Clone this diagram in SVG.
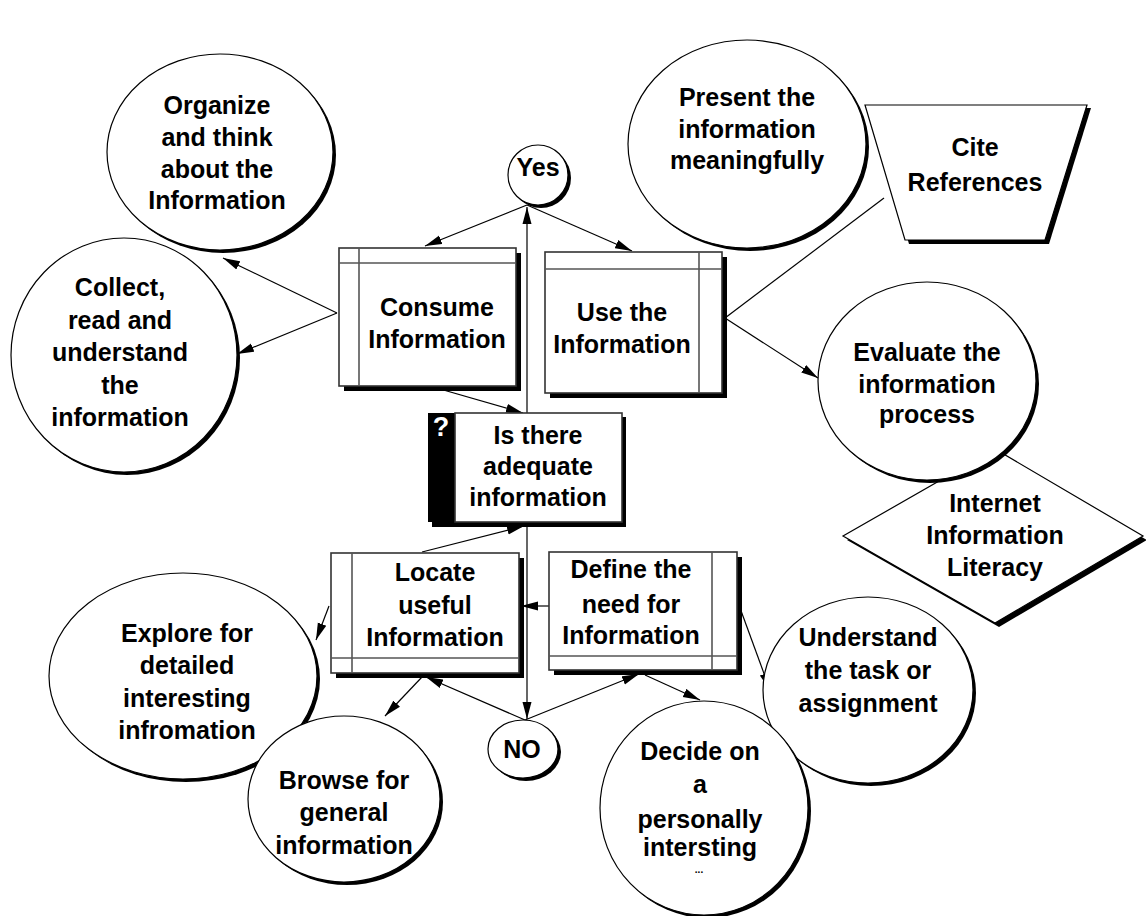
<svg xmlns="http://www.w3.org/2000/svg" width="1146" height="916" viewBox="0 0 1146 916">
<defs>
<style>
.t{font-family:"Liberation Sans",Arial,sans-serif;font-weight:bold;font-size:25px;fill:#000;text-anchor:middle}
.sh{fill:#000}
.c{fill:#fff;stroke:#000;stroke-width:1.2}
.b{fill:#fff;stroke:#333;stroke-width:1.6}
.in{stroke:#555;stroke-width:1.6;fill:none}
.ln{stroke:#000;stroke-width:1.2;fill:none}
</style>
<marker id="ah" markerUnits="userSpaceOnUse" markerWidth="18" markerHeight="10" refX="17" refY="5" orient="auto">
<path d="M0,0.5 L17,5 L0,9.5 z" fill="#000"/>
</marker>
</defs>
<rect width="1146" height="916" fill="#fff"/>

<g id="diamond">
<polygon class="sh" points="999,453 1147,540 999,627 847,540"/>
<polygon class="c" points="995,449 1143,536 995,623 843,536"/>
<text class="t" x="995" y="512">Internet</text>
<text class="t" x="995" y="544">Information</text>
<text class="t" x="995" y="576">Literacy</text>
</g>

<g id="connectors">
<line class="ln" x1="527" y1="413" x2="527" y2="207" marker-end="url(#ah)"/>
<line class="ln" x1="527" y1="205" x2="425" y2="246" marker-end="url(#ah)"/>
<line class="ln" x1="527" y1="205" x2="632" y2="251" marker-end="url(#ah)"/>
<line class="ln" x1="337" y1="313" x2="223" y2="258" marker-end="url(#ah)"/>
<line class="ln" x1="337" y1="313" x2="237" y2="354" marker-end="url(#ah)"/>
<line class="ln" x1="433" y1="387" x2="523" y2="413" marker-end="url(#ah)"/>
<line class="ln" x1="725" y1="318" x2="884" y2="198"/>
<line class="ln" x1="725" y1="318" x2="818" y2="378" marker-end="url(#ah)"/>
<line class="ln" x1="527" y1="522" x2="527" y2="719" marker-end="url(#ah)"/>
<line class="ln" x1="525" y1="720" x2="426" y2="677" marker-end="url(#ah)"/>
<line class="ln" x1="525" y1="720" x2="639" y2="674" marker-end="url(#ah)"/>
<line class="ln" x1="422" y1="552" x2="524" y2="526" marker-end="url(#ah)"/>
<line class="ln" x1="549" y1="606" x2="521" y2="606" marker-end="url(#ah)"/>
<line class="ln" x1="329" y1="606" x2="316" y2="640" marker-end="url(#ah)"/>
<line class="ln" x1="422" y1="677" x2="385" y2="716" marker-end="url(#ah)"/>
<line class="ln" x1="645" y1="675" x2="700" y2="700" marker-end="url(#ah)"/>
<line class="ln" x1="740" y1="608" x2="770" y2="690" marker-end="url(#ah)"/>
</g>

<g id="collect">
<ellipse class="sh" cx="127" cy="358" rx="113" ry="117"/>
<ellipse class="c" cx="124" cy="355" rx="113" ry="117"/>
<text class="t" x="120" y="296">Collect,</text>
<text class="t" x="120" y="329">read and</text>
<text class="t" x="120" y="361">understand</text>
<text class="t" x="120" y="394">the</text>
<text class="t" x="120" y="426">information</text>
</g>

<g id="organize">
<ellipse class="sh" cx="223" cy="155" rx="113" ry="98"/>
<ellipse class="c" cx="220" cy="152" rx="113" ry="98"/>
<text class="t" x="217" y="114">Organize</text>
<text class="t" x="217" y="146">and think</text>
<text class="t" x="217" y="178">about the</text>
<text class="t" x="217" y="209">Information</text>
</g>

<g id="yes">
<ellipse class="sh" cx="541" cy="178" rx="30" ry="30"/>
<ellipse class="c" cx="538" cy="175" rx="30" ry="30"/>
<text class="t" x="538" y="176">Yes</text>
</g>

<g id="present">
<ellipse class="sh" cx="750" cy="147" rx="119" ry="104"/>
<ellipse class="c" cx="747" cy="144" rx="119" ry="104"/>
<text class="t" x="747" y="106">Present the</text>
<text class="t" x="747" y="138">information</text>
<text class="t" x="747" y="169">meaningfully</text>
</g>

<g id="cite">
<polygon class="sh" points="869,108 1091,108 1049,244 909,244"/>
<polygon class="c" points="865,105 1087,105 1045,240 905,240"/>
<text class="t" x="975" y="156">Cite</text>
<text class="t" x="975" y="191">References</text>
</g>

<g id="consume">
<rect class="sh" x="344" y="253" width="177" height="138"/>
<rect class="b" x="339" y="248" width="177" height="138"/>
<line class="in" x1="359" y1="248" x2="359" y2="386"/>
<line class="in" x1="339" y1="263" x2="516" y2="263"/>
<text class="t" x="437" y="316">Consume</text>
<text class="t" x="437" y="348">Information</text>
</g>

<g id="use">
<rect class="sh" x="550" y="257" width="177" height="141"/>
<rect class="b" x="545" y="252" width="177" height="141"/>
<line class="in" x1="699" y1="252" x2="699" y2="393"/>
<line class="in" x1="545" y1="269" x2="722" y2="269"/>
<text class="t" x="622" y="321">Use the</text>
<text class="t" x="622" y="353">Information</text>
</g>

<g id="evaluate">
<ellipse class="sh" cx="930" cy="384" rx="109" ry="99"/>
<ellipse class="c" cx="927" cy="381" rx="109" ry="99"/>
<text class="t" x="927" y="361">Evaluate the</text>
<text class="t" x="927" y="393">information</text>
<text class="t" x="927" y="423">process</text>
</g>

<g id="question">
<rect class="sh" x="432" y="417" width="194" height="110"/>
<rect x="428" y="413" width="27" height="109" fill="#000"/>
<rect class="b" x="455" y="413" width="167" height="109"/>
<text class="t" x="441" y="436" style="fill:#fff;font-size:27px">?</text>
<text class="t" x="538" y="444">Is there</text>
<text class="t" x="538" y="475">adequate</text>
<text class="t" x="538" y="506">information</text>
</g>

<g id="locate">
<rect class="sh" x="336" y="558" width="188" height="120"/>
<rect class="b" x="331" y="553" width="188" height="120"/>
<line class="in" x1="352" y1="553" x2="352" y2="673"/>
<line class="in" x1="331" y1="658" x2="519" y2="658"/>
<text class="t" x="435" y="581">Locate</text>
<text class="t" x="435" y="614">useful</text>
<text class="t" x="435" y="646">Information</text>
</g>

<g id="define">
<rect class="sh" x="554" y="557" width="188" height="118"/>
<rect class="b" x="549" y="552" width="188" height="118"/>
<line class="in" x1="712" y1="552" x2="712" y2="670"/>
<line class="in" x1="549" y1="656" x2="737" y2="656"/>
<text class="t" x="631" y="578">Define the</text>
<text class="t" x="631" y="613">need for</text>
<text class="t" x="631" y="644">Information</text>
</g>

<g id="explore">
<ellipse class="sh" cx="186" cy="679" rx="134" ry="103"/>
<ellipse class="c" cx="183" cy="676" rx="134" ry="103"/>
<text class="t" x="187" y="642">Explore for</text>
<text class="t" x="187" y="674">detailed</text>
<text class="t" x="187" y="707">interesting</text>
<text class="t" x="187" y="739">infromation</text>
</g>

<g id="no">
<ellipse class="sh" cx="526" cy="752" rx="35" ry="29"/>
<ellipse class="c" cx="523" cy="749" rx="35" ry="29"/>
<text class="t" x="522" y="758">NO</text>
</g>

<g id="browse">
<ellipse class="sh" cx="347" cy="802" rx="96" ry="83"/>
<ellipse class="c" cx="344" cy="799" rx="96" ry="83"/>
<text class="t" x="344" y="789">Browse for</text>
<text class="t" x="344" y="821">general</text>
<text class="t" x="344" y="854">information</text>
</g>

<g id="understand">
<ellipse class="sh" cx="871" cy="693" rx="105" ry="93"/>
<ellipse class="c" cx="868" cy="690" rx="105" ry="93"/>
<text class="t" x="868" y="646">Understand</text>
<text class="t" x="868" y="679">the task or</text>
<text class="t" x="868" y="712">assignment</text>
</g>

<g id="decide">
<ellipse class="sh" cx="707" cy="811" rx="104" ry="107"/>
<ellipse class="c" cx="704" cy="808" rx="104" ry="107"/>
<text class="t" x="700" y="760">Decide on</text>
<text class="t" x="700" y="793">a</text>
<text class="t" x="700" y="828">personally</text>
<text class="t" x="700" y="856">intersting</text>
<text class="t" x="699" y="873" style="font-size:10px">...</text>
</g>
</svg>
